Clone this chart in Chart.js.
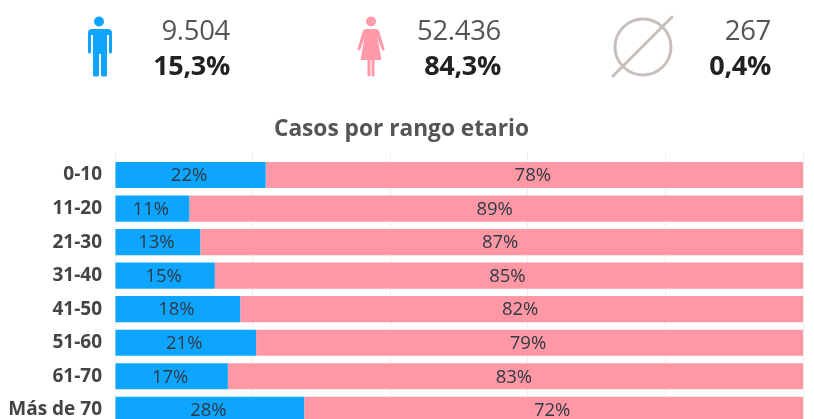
<!DOCTYPE html>
<html><head><meta charset="utf-8">
<script src="https://cdn.jsdelivr.net/npm/chart.js@4"></script>
<style>
html,body{margin:0;padding:0;background:#fff;width:814px;height:419px;overflow:hidden;font-family:"Open Sans",sans-serif}
#all{position:absolute;left:0;top:0;width:814px;height:419px;overflow:hidden;filter:blur(.45px)}
#wrap{position:absolute;left:0;top:0;width:814px;height:443px}
.n{position:absolute;text-align:right;width:120px;font-size:27.5px;line-height:30px;color:#555;letter-spacing:-.3px}
.p{position:absolute;text-align:right;width:120px;font-size:27px;line-height:28px;color:#222;font-weight:700;letter-spacing:-.3px}
svg{position:absolute;left:0;top:0}
</style></head><body>
<div id="all">
<svg width="814" height="100">
<g fill="#0ea5ff">
<circle cx="99" cy="21.5" r="5"/>
<path d="M90 29h18q4 0 4 4v19q0 1.500-1.500 1.500t-1.500-1.500v-17h-2v40q0 1.500-2 1.500h-2q-2 0-2-1.500v-21h-2v21q0 1.500-2 1.500h-2q-2 0-2-1.500v-40h-2v17q0 1.500-1.500 1.500t-1.500-1.500v-19q0-4 4-4z"/>
</g>
<g fill="#ff9aa8">
<circle cx="371" cy="21.500" r="5"/>
<path d="M366 29h10q2.500 0 3.500 3l5 17q.3 1.500-1 1.500t-2-1.500l-4-11 4 22h-7v15.500q0 1-1.500 1t-1.500-1v-15.500h-1v15.500q0 1-1.500 1t-1.500-1v-15.500h-7l4-22-4 11q-.7 1.500-2 1.500t-1-1.500l5-17q1-3 3.500-3z"/>
</g>
<g fill="none" stroke="#c6bfbb" stroke-width="3">
<circle cx="643" cy="47" r="28"/>
<path d="M613 76L672 17" stroke-linecap="round"/>
</g>
</svg>
<div class="n" style="left:110px;top:15px">9.504</div>
<div class="p" style="left:110px;top:51px">15,3%</div>
<div class="n" style="left:381px;top:15px">52.436</div>
<div class="p" style="left:381px;top:51px">84,3%</div>
<div class="n" style="left:651px;top:15px">267</div>
<div class="p" style="left:651px;top:51px">0,4%</div>
<div id="wrap"><canvas id="c" width="814" height="443"></canvas></div>
</div>
<script>
const categories = ["0-10","11-20","21-30","31-40","41-50","51-60","61-70","Más de 70"];
const hombres = [21.9,10.8,12.4,14.5,18.2,20.5,16.4,27.5];
const mujeres = [78.1,89.2,87.6,85.5,81.8,79.5,83.6,72.5];
const etiquetasHombres = ["22%","11%","13%","15%","18%","21%","17%","28%"];
const etiquetasMujeres = ["78%","89%","87%","85%","82%","79%","83%","72%"];
const titulo = "Casos por rango etario";

const barLabels = {
  id:"barLabels",
  afterDatasetsDraw(chart){
    const ctx = chart.ctx;
    const texts=[etiquetasHombres,etiquetasMujeres];
    chart.data.datasets.forEach((ds,d)=>{
      chart.getDatasetMeta(d).data.forEach((bar,i)=>{
        const p = bar.getProps(["x","y","base"],true);
        ctx.save();
        ctx.font='18.5px "Open Sans"';
        ctx.fillStyle="#2f3a44";
        ctx.textAlign="center";ctx.textBaseline="middle";
        ctx.fillText(texts[d][i],(p.x+p.base)/2-1.5,p.y+1);
        ctx.restore();
      });
    });
  }
};
new Chart(document.getElementById("c"),{
  type:"bar",
  data:{labels:categories,datasets:[
    {label:"Hombres",data:hombres,backgroundColor:"#0ea5ff"},
    {label:"Mujeres",data:mujeres,backgroundColor:"#ff97a5"}
  ]},
  plugins:[barLabels],
  options:{
    indexAxis:"y",responsive:false,animation:false,
    layout:{padding:{top:116,right:11,left:0,bottom:0}},
    plugins:{legend:{display:false},tooltip:{enabled:false},
      title:{display:true,text:titulo,color:"#555",font:{family:'"Open Sans"',size:22.7,weight:"bold"},padding:{top:0,bottom:9}}},
    scales:{
      x:{position:"top",stacked:true,min:0,max:100,
        grid:{color:"#eeeeee",drawTicks:true,tickLength:6},border:{display:false},
        ticks:{display:false,stepSize:20}},
      y:{stacked:true,
        grid:{display:false},border:{display:false},
        afterFit(s){s.width=115;},
        ticks:{color:"#444",padding:5,font:{family:'"Open Sans"',size:19,weight:"bold"}}}
    },
    datasets:{bar:{categoryPercentage:.78,barPercentage:1}}
  }
});
</script>
</body></html>
